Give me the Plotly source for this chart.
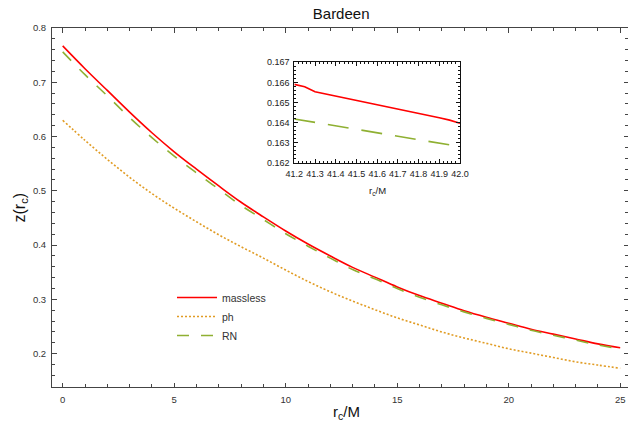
import plotly.graph_objects as go

# Main panel: z(r_c) against r_c/M
r_main = list(range(0, 26))
z_massless = [0.767, 0.725, 0.685, 0.645, 0.607, 0.572, 0.540, 0.509, 0.479, 0.452,
              0.426, 0.402, 0.380, 0.359, 0.341, 0.323, 0.307, 0.293, 0.279, 0.267,
              0.256, 0.245, 0.236, 0.227, 0.218, 0.211]
z_ph = [0.630, 0.593, 0.558, 0.525, 0.495, 0.468, 0.443, 0.419, 0.397, 0.376,
        0.354, 0.333, 0.314, 0.297, 0.281, 0.266, 0.253, 0.240, 0.229, 0.219,
        0.209, 0.201, 0.193, 0.185, 0.179, 0.173]
z_rn = [0.756, 0.714, 0.675, 0.635, 0.598, 0.564, 0.533, 0.503, 0.473, 0.447,
        0.421, 0.398, 0.376, 0.355, 0.338, 0.320, 0.304, 0.290, 0.277, 0.265,
        0.254, 0.243, 0.234, 0.225, 0.216, 0.209]

# Inset: zoom on 41.2 <= r_c/M <= 42
r_inset = [41.2, 41.25, 41.3, 41.4, 41.5, 41.6, 41.7, 41.8, 41.9, 41.95, 42.0]
z_massless_inset = [0.16590, 0.16578, 0.16553, 0.16532, 0.16511, 0.16489,
                    0.16467, 0.16446, 0.16424, 0.16412, 0.16396]
r_rn_inset = [41.2, 42.0]
z_rn_inset = [0.16418, 0.16280]

inset_xticks = [41.2, 41.3, 41.4, 41.5, 41.6, 41.7, 41.8, 41.9, 42.0]
inset_yticks = [0.162, 0.163, 0.164, 0.165, 0.166, 0.167]
main_xticks = [0, 5, 10, 15, 20, 25]
main_yticks = [0.2, 0.3, 0.4, 0.5, 0.6, 0.7, 0.8]

series_names = ["massless", "ph", "RN"]
RED = "#FF0000"
ORANGE = "#E19C24"
GREEN = "#8FB032"
FRAME = "#444444"
INSET_FRAME = "#111111"
FONT = "Liberation Sans, Arial, sans-serif"

fig = go.Figure()
fig.add_trace(go.Scatter(x=r_main, y=z_massless, mode="lines", name=series_names[0],
                         line=dict(color=RED, width=1.6, shape="spline")))
fig.add_trace(go.Scatter(x=r_main, y=z_ph, mode="lines", name=series_names[1],
                         line=dict(color=ORANGE, width=1.6, dash="2px,2px", shape="spline")))
fig.add_trace(go.Scatter(x=r_main, y=z_rn, mode="lines", name=series_names[2],
                         line=dict(color=GREEN, width=1.6, dash="12px,12px", shape="spline")))

fig.add_trace(go.Scatter(x=r_inset, y=z_massless_inset, mode="lines", showlegend=False,
                         line=dict(color=RED, width=1.6), xaxis="x2", yaxis="y2"))
fig.add_trace(go.Scatter(x=r_rn_inset, y=z_rn_inset, mode="lines", showlegend=False,
                         line=dict(color=GREEN, width=1.6, dash="21px,13px"),
                         xaxis="x2", yaxis="y2"))

tick_font = dict(family=FONT, size=9.5, color="#333333")
frame_common = dict(showline=True, linecolor=FRAME, linewidth=1, mirror="allticks",
                    ticks="inside", tickcolor=FRAME, tickwidth=1, ticklen=4.5,
                    showgrid=False, zeroline=False, tickfont=tick_font, automargin=False)
inset_common = dict(showline=True, linecolor=INSET_FRAME, linewidth=1.2, mirror="allticks",
                    ticks="inside", tickcolor=INSET_FRAME, ticklen=3.5, showgrid=False,
                    zeroline=False, tickfont=dict(family=FONT, size=9, color="#222222"),
                    ticklabelstandoff=2, tickangle=0, automargin=False)

fig.update_layout(
    width=628, height=432,
    margin=dict(l=52, r=0, t=28, b=45, autoexpand=False),
    paper_bgcolor="white", plot_bgcolor="white",
    font=dict(family=FONT, color="#222222"),
    title=dict(text="Bardeen", font=dict(family=FONT, size=15, color="#111111"),
               x=0.502, xref="paper", y=1 - 14 / 432, yref="container",
               xanchor="center", yanchor="middle"),
    xaxis=dict(range=[-0.48, 25.35], tickvals=main_xticks,
               minor=dict(dtick=1, tick0=0, ticks="inside", ticklen=2.7,
                          tickcolor=FRAME, showgrid=False),
               ticklabelstandoff=4, **frame_common),
    yaxis=dict(range=[0.1386, 0.8], tickvals=main_yticks,
               ticktext=[f"{v:.1f}" for v in main_yticks],
               minor=dict(dtick=0.02, tick0=0, ticks="inside", ticklen=2.7,
                          tickcolor=FRAME, showgrid=False),
               ticklabelstandoff=3, **frame_common),
    xaxis2=dict(domain=[0.4207, 0.7083], anchor="y2", range=[41.2, 42.0],
                tickvals=inset_xticks, ticktext=[f"{v:.1f}" for v in inset_xticks],
                minor=dict(dtick=0.02, tick0=41.2, ticks="inside", ticklen=2,
                           tickcolor=INSET_FRAME, showgrid=False),
                **inset_common),
    yaxis2=dict(domain=[0.6248, 0.9045], anchor="x2", range=[0.162, 0.167],
                tickvals=inset_yticks, ticktext=[f"{v:.3f}" for v in inset_yticks],
                minor=dict(dtick=0.0002, tick0=0.162, ticks="inside", ticklen=2,
                           tickcolor=INSET_FRAME, showgrid=False),
                **inset_common),
    legend=dict(x=(172 - 52) / 576, y=(387 - 283) / 359, xanchor="left", yanchor="top",
                bgcolor="rgba(255,255,255,0)", font=dict(family=FONT, size=10.5, color="#333333"),
                itemwidth=40, tracegroupgap=0),
    showlegend=True,
)

# Axis titles
fig.add_annotation(text="z(r<sub>c</sub>)", xref="paper", yref="paper",
                   x=-32 / 576, y=0.5, xanchor="center", yanchor="middle",
                   textangle=-90, showarrow=False,
                   font=dict(family=FONT, size=16, color="#111111"))
fig.add_annotation(text="r<sub>c</sub>/M", xref="paper", yref="paper",
                   x=(346 - 52) / 576, y=-25 / 359, xanchor="center", yanchor="middle",
                   showarrow=False, font=dict(family=FONT, size=15, color="#111111"))
fig.add_annotation(text="r<sub>c</sub>/M", xref="paper", yref="paper",
                   x=(377 - 52) / 576, y=(387 - 191) / 359, xanchor="center", yanchor="middle",
                   showarrow=False, font=dict(family=FONT, size=9.5, color="#222222"))

fig.write_html("out.html")
